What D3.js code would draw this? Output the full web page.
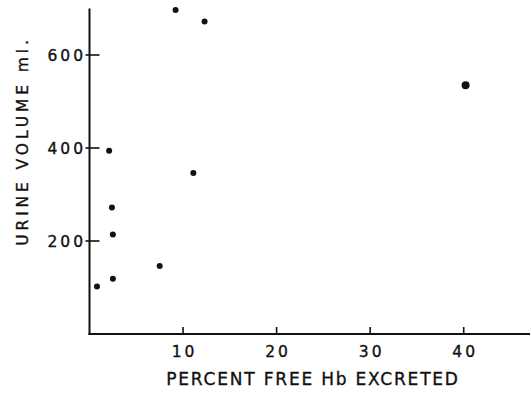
<html>
<script src="https://d3js.org/d3.v7.min.js"></script>
<style>
  body { margin: 0; background: #fff; }
  text { font-family: "DejaVu Sans", sans-serif; fill: #111; stroke: #111; stroke-width: 0.35; }
</style>
<body>
<svg width="532" height="393"></svg>
<script>
// percent free Hb excreted vs urine volume (ml)
var pctFree = [9.2, 12.3, 2.1, 11.1, 2.4, 2.5, 2.5, 0.8, 7.5, 40.2];
var urineMl = [697, 672, 394, 346, 272, 214, 119, 102, 146, 535];
var xTicks = [10, 20, 30, 40];
var yTicks = [200, 400, 600];

var svg = d3.select("svg");
var ink = "#111";

var x = d3.scaleLinear().domain([0, 47.3]).range([89.5, 532]);
var y = d3.scaleLinear().domain([0, 700]).range([334, 8.5]);

// axes lines
svg.append("line")
  .attr("x1", x(0)).attr("x2", x(0))
  .attr("y1", y(700)).attr("y2", y(0) + 1)
  .attr("stroke", ink).attr("stroke-width", 2);
svg.append("line")
  .attr("x1", x(0) - 1).attr("x2", 530)
  .attr("y1", y(0)).attr("y2", y(0))
  .attr("stroke", ink).attr("stroke-width", 2);

// y ticks
svg.selectAll(".yt").data(yTicks).enter().append("line")
  .attr("x1", x(0) - 4).attr("x2", x(0) + 10)
  .attr("y1", function(d) { return y(d); })
  .attr("y2", function(d) { return y(d); })
  .attr("stroke", ink).attr("stroke-width", 1.6);
svg.selectAll(".yl").data(yTicks).enter().append("text")
  .attr("x", 86)
  .attr("y", function(d) { return y(d); })
  .attr("dy", "0.36em")
  .attr("text-anchor", "end")
  .attr("font-size", 15.5)
  .attr("letter-spacing", 3)
  .text(function(d) { return d; });

// x ticks
svg.selectAll(".xt").data(xTicks).enter().append("line")
  .attr("x1", function(d) { return x(d); })
  .attr("x2", function(d) { return x(d); })
  .attr("y1", y(0)).attr("y2", y(0) - 7)
  .attr("stroke", ink).attr("stroke-width", 1.6);
svg.selectAll(".xl").data(xTicks).enter().append("text")
  .attr("x", function(d) { return x(d) + 1.5; })
  .attr("y", 351)
  .attr("dy", "0.36em")
  .attr("text-anchor", "middle")
  .attr("font-size", 15.5)
  .attr("letter-spacing", 3)
  .text(function(d) { return d; });

// axis titles
svg.append("text")
  .attr("x", 313).attr("y", 385)
  .attr("text-anchor", "middle")
  .attr("font-size", 17)
  .attr("letter-spacing", 1.8)
  .text("PERCENT FREE Hb EXCRETED");
svg.append("text")
  .attr("transform", "translate(28,141) rotate(-90)")
  .attr("text-anchor", "middle")
  .attr("font-size", 15.5)
  .attr("letter-spacing", 3.9)
  .text("URINE VOLUME ml.");

// points
svg.selectAll("circle").data(pctFree).enter().append("circle")
  .attr("cx", function(d) { return x(d); })
  .attr("cy", function(d, i) { return y(urineMl[i]); })
  .attr("r", function(d) { return d > 30 ? 4 : 3; })
  .attr("fill", ink);
</script>
</body>
</html>
